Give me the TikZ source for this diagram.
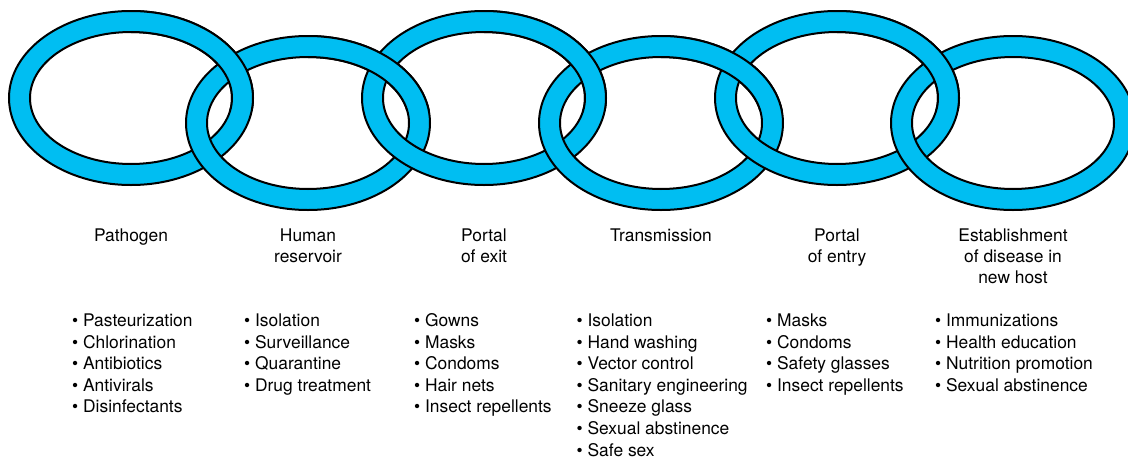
\documentclass[tikz,border=0pt]{standalone}
\usepackage{fontspec}
\setmainfont{TeX Gyre Heros}
\definecolor{linkblue}{RGB}{0,190,242}
\tikzset{
  chainlink/.style={fill=linkblue, draw=black, line width=2pt, even odd rule},
  heading/.style={anchor=base, inner sep=0pt, font=\fontsize{17.4}{21}\selectfont},
  measures/.style={anchor=base west, inner sep=0pt, font=\fontsize{17.4}{21.6}\selectfont},
}
% one chain link: an elliptical ring centred on the given coordinate
\newcommand{\chainring}[1]{%
  \path[chainlink] (#1) ellipse [x radius=122pt, y radius=87pt]
                   (#1) ellipse [x radius=101pt, y radius=66pt];}
\begin{document}
\begin{tikzpicture}[x=1pt, y=-1pt]
  \useasboundingbox (0,0) rectangle (1128,458);
  \clip (0,0) rectangle (1128,458);

  % centres of the six links
  \coordinate (L1) at (131,98);
  \coordinate (L2) at (308,123);
  \coordinate (L3) at (484,98);
  \coordinate (L4) at (661,123);
  \coordinate (L5) at (837,98);
  \coordinate (L6) at (1013,123);

  % links, each drawn over the previous one
  \foreach \i in {1,...,6} {\chainring{L\i}}

  % upper crossings: the left link passes over its right neighbour
  \foreach \i/\xa/\xb in {1/131/308, 2/308/484, 3/484/661, 4/661/837, 5/837/1013} {
    \begin{scope}
      \clip (\xa,0) rectangle (\xb,110);
      \chainring{L\i}
    \end{scope}
  }

  % stage headings
  \node[heading] (h1) at (131,241) {Pathogen};
  \node[heading] (h2) at (308,241) {\begin{tabular}[t]{@{}c@{}}Human\\reservoir\end{tabular}};
  \node[heading] (h3) at (484,241) {\begin{tabular}[t]{@{}c@{}}Portal\\of exit\end{tabular}};
  \node[heading] (h4) at (661,241) {Transmission};
  \node[heading] (h5) at (837,241) {\begin{tabular}[t]{@{}c@{}}Portal\\of entry\end{tabular}};
  \node[heading] (h6) at (1013,241) {\begin{tabular}[t]{@{}c@{}}Establishment\\of disease in\\new host\end{tabular}};

  % control measures for each stage
  \node[measures] (m1) at (72,326.5) {\begin{tabular}[t]{@{}l@{}}
    \textbullet\ Pasteurization\\ \textbullet\ Chlorination\\ \textbullet\ Antibiotics\\
    \textbullet\ Antivirals\\ \textbullet\ Disinfectants\end{tabular}};
  \node[measures] (m2) at (244,326.5) {\begin{tabular}[t]{@{}l@{}}
    \textbullet\ Isolation\\ \textbullet\ Surveillance\\ \textbullet\ Quarantine\\
    \textbullet\ Drug treatment\end{tabular}};
  \node[measures] (m3) at (414,326.5) {\begin{tabular}[t]{@{}l@{}}
    \textbullet\ Gowns\\ \textbullet\ Masks\\ \textbullet\ Condoms\\
    \textbullet\ Hair nets\\ \textbullet\ Insect repellents\end{tabular}};
  \node[measures] (m4) at (576.5,326.5) {\begin{tabular}[t]{@{}l@{}}
    \textbullet\ Isolation\\ \textbullet\ Hand washing\\ \textbullet\ Vector control\\
    \textbullet\ Sanitary engineering\\ \textbullet\ Sneeze glass\\
    \textbullet\ Sexual abstinence\\ \textbullet\ Safe sex\end{tabular}};
  \node[measures] (m5) at (766,326.5) {\begin{tabular}[t]{@{}l@{}}
    \textbullet\ Masks\\ \textbullet\ Condoms\\ \textbullet\ Safety glasses\\
    \textbullet\ Insect repellents\end{tabular}};
  \node[measures] (m6) at (935,326.5) {\begin{tabular}[t]{@{}l@{}}
    \textbullet\ Immunizations\\ \textbullet\ Health education\\ \textbullet\ Nutrition promotion\\
    \textbullet\ Sexual abstinence\end{tabular}};
\end{tikzpicture}
\end{document}
